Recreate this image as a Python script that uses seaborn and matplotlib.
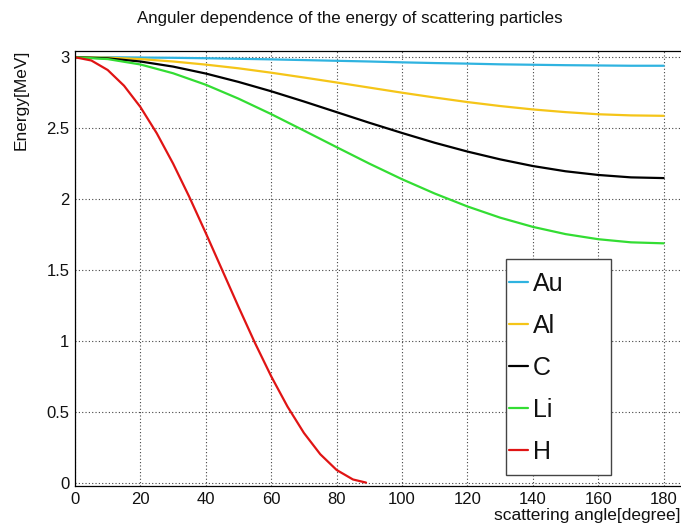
import numpy as np
import pandas as pd
import seaborn as sns
import matplotlib
matplotlib.use("Agg")
import matplotlib.pyplot as plt
from matplotlib.ticker import MultipleLocator
from matplotlib.patches import Rectangle
from matplotlib.lines import Line2D

# ---- data ----
angle_H = [0, 5, 10, 15, 20, 25, 30, 35, 40, 45, 50, 55, 60, 65, 70, 75, 80, 85, 89]
energy_H = [3.0, 2.977, 2.910, 2.799, 2.649, 2.464, 2.25, 2.013, 1.760, 1.5,
            1.240, 0.987, 0.75, 0.536, 0.351, 0.201, 0.090, 0.023, 0.001]

angle = [0, 10, 20, 30, 40, 50, 60, 70, 80, 90, 100, 110, 120, 130, 140, 150, 160, 170, 180]
energy_Au = [3.0, 3.0, 2.998, 2.996, 2.993, 2.989, 2.985, 2.980, 2.975, 2.970,
             2.964, 2.959, 2.955, 2.950, 2.947, 2.944, 2.942, 2.940, 2.940]
energy_Al = [3.0, 2.997, 2.987, 2.970, 2.948, 2.922, 2.891, 2.857, 2.822, 2.786,
             2.750, 2.716, 2.684, 2.656, 2.632, 2.613, 2.598, 2.590, 2.587]
energy_C = [3.0, 2.992, 2.970, 2.934, 2.885, 2.826, 2.760, 2.688, 2.613, 2.538,
            2.466, 2.397, 2.335, 2.280, 2.233, 2.196, 2.170, 2.153, 2.148]
energy_Li = [3.0, 2.987, 2.949, 2.887, 2.806, 2.708, 2.599, 2.483, 2.366, 2.25,
             2.140, 2.039, 1.948, 1.869, 1.804, 1.753, 1.717, 1.695, 1.688]

targets = ["Au", "Al", "C", "Li", "H"]
colors = {"Au": "#2fb3e0", "Al": "#f5c518", "C": "#000000", "Li": "#33dd33", "H": "#e01414"}

frames = []
for name, ys in [("Au", energy_Au), ("Al", energy_Al), ("C", energy_C), ("Li", energy_Li)]:
    frames.append(pd.DataFrame({"angle": angle, "energy": ys, "target": name}))
frames.append(pd.DataFrame({"angle": angle_H, "energy": energy_H, "target": "H"}))
df = pd.concat(frames, ignore_index=True)

# ---- style ----
sns.set_theme(style="white")
plt.rcParams["font.family"] = ["Liberation Sans", "DejaVu Sans"]
plt.rcParams["text.color"] = "#111111"

fig = plt.figure(figsize=(6.81, 5.32), dpi=100)
W, H = 681, 532
ax = fig.add_axes([75 / W, 1 - 486 / H, 605 / W, 435 / H])

sns.lineplot(data=df, x="angle", y="energy", hue="target", hue_order=targets,
             palette=colors, sort=False, estimator=None, legend=False,
             linewidth=1.6, ax=ax)

ax.set_xlim(0, 185)
ax.set_ylim(-0.023, 3.044)
ax.xaxis.set_minor_locator(MultipleLocator(5))
ax.yaxis.set_minor_locator(MultipleLocator(0.1))
ax.set_xticks([0, 20, 40, 60, 80, 100, 120, 140, 160, 180])
ax.set_xticklabels(["0", "20", "40", "60", "80", "100", "120", "140", "160", "180"])
ax.set_yticks([0, 0.5, 1, 1.5, 2, 2.5, 3])
ax.set_yticklabels(["0", "0.5", "1", "1.5", "2", "2.5", "3"])

ax.tick_params(axis="both", which="both", direction="in", colors="black",
               labelcolor="#111111", labelsize=12, width=0.8, top=False, right=False)
ax.tick_params(axis="y", which="major", length=12, pad=4)
ax.tick_params(axis="y", which="minor", length=6.5)
ax.tick_params(axis="x", which="major", length=9.5, pad=4)
ax.tick_params(axis="x", which="minor", length=5)
for s in ax.spines.values():
    s.set_color("black")
    s.set_linewidth(0.9)
ax.spines["right"].set_visible(False)

ax.grid(True, which="major", color="#444444", linestyle=(0, (1, 2)), linewidth=0.8)
ax.set_axisbelow(True)

ax.set_xlabel("")
ax.set_ylabel("")
fig.text(680 / W, 1 - 520 / H, "scattering angle[degree]", ha="right", va="baseline",
         fontsize=12.5)
fig.text(14 / W, 1 - 50 / H, "Energy[MeV]", ha="left", va="top", rotation=90,
         fontsize=12.5)
fig.text(350 / W, 1 - 23 / H, "Anguler dependence of the energy of scattering particles",
         ha="center", va="baseline", fontsize=12.2)

# legend (frame drawn as plain box, entries via legend)
frame = Rectangle((0.712, 0.025), 0.174, 0.497, transform=ax.transAxes,
                  facecolor="white", edgecolor="#444444", linewidth=1.0, zorder=5)
ax.add_patch(frame)
handles = [Line2D([0], [0], color=colors[t], linewidth=1.6) for t in targets]
leg = ax.legend(handles, targets, loc="upper left", bbox_to_anchor=(0.717, 0.492),
                frameon=False, fontsize=18, handlelength=0.75, handletextpad=0.2,
                labelspacing=0.72, borderpad=0, borderaxespad=0, labelcolor="#111111")
leg.set_zorder(6)

fig.savefig("out.png", dpi=100)
